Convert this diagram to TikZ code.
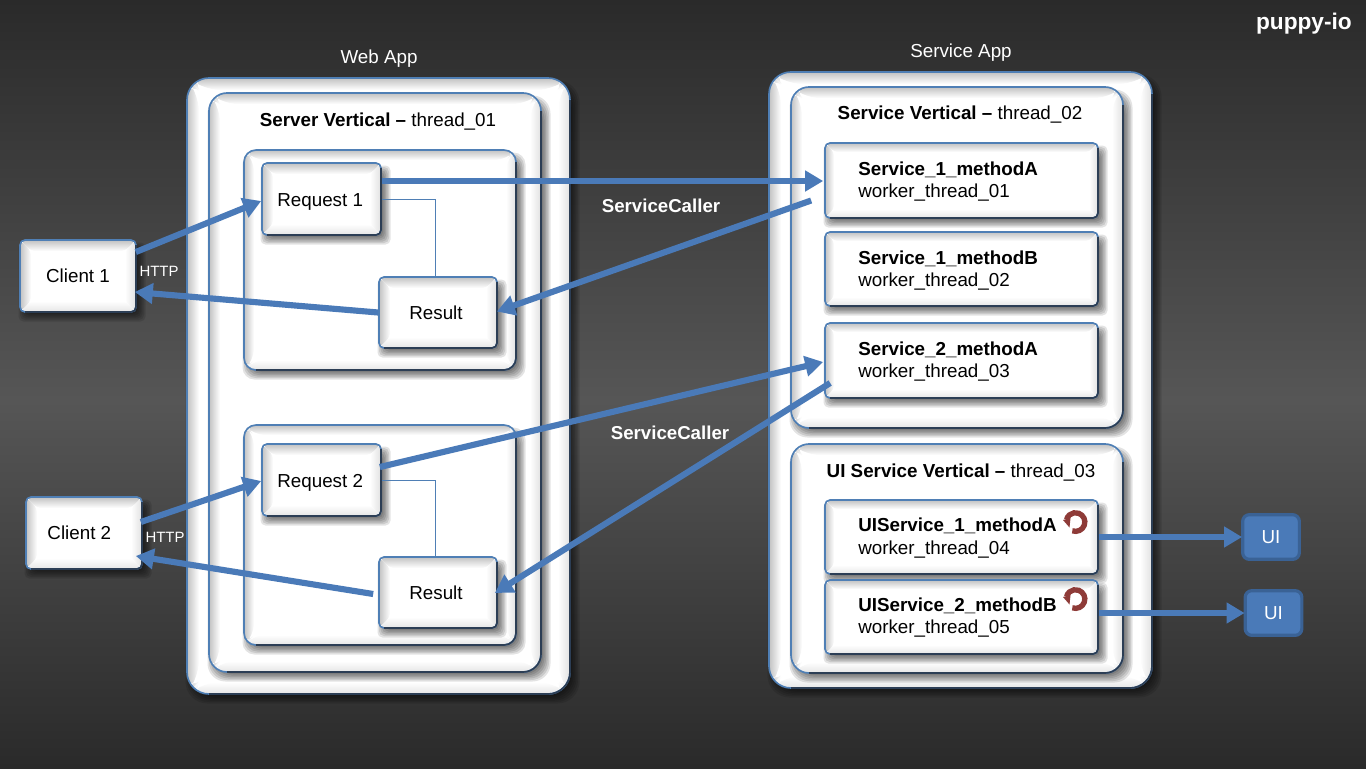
\documentclass[tikz,border=0pt]{standalone}
\usepackage{fontspec}
\setmainfont{Liberation Sans}
\usetikzlibrary{arrows.meta,calc}
\definecolor{bgdark}{HTML}{2A2A2A}
\definecolor{bgmid}{HTML}{565656}
\definecolor{linkblue}{HTML}{4A7AB8}
\definecolor{edgeblue}{HTML}{4F7FB5}
\definecolor{edgedark}{HTML}{2C3E55}
\definecolor{uiedge}{HTML}{3A6295}
\definecolor{spin}{HTML}{8E3B38}
\tikzset{
  x=0.75pt,y=-0.75pt,
  bevel/.store in=\bevw, bevel=10,
  bevelbox/.style={draw=edgeblue,line width=1.25pt,fill=white,inner sep=0pt,
    font=\fontsize{14.1}{16}\selectfont,
    path picture={
      \coordinate (nw) at (path picture bounding box.north west);
      \coordinate (ne) at (path picture bounding box.north east);
      \coordinate (sw) at (path picture bounding box.south west);
      \coordinate (se) at (path picture bounding box.south east);
      \shade[top color=black!24,bottom color=white]
        (nw)--(ne)--($(ne)+(-\bevw,\bevw)$)--($(nw)+(\bevw,\bevw)$)--cycle;
      \shade[left color=black!24,right color=white]
        (nw)--($(nw)+(\bevw,\bevw)$)--($(sw)+(\bevw,-\bevw)$)--(sw)--cycle;
      \shade[right color=black!12,left color=white]
        (ne)--($(ne)+(-\bevw,\bevw)$)--($(se)+(-\bevw,-\bevw)$)--(se)--cycle;
      \shade[bottom color=black!10,top color=white]
        (sw)--($(sw)+(\bevw,-\bevw)$)--($(se)+(-\bevw,-\bevw)$)--(se)--cycle;
    }},
  lbl/.style={inner sep=0pt,font=\fontsize{14.1}{16}\selectfont},
  lblwhite/.style={lbl,text=white},
  linkarrow/.style={draw=linkblue,line width=4.6pt,-{Triangle[length=13.5pt,width=15pt]}},
  uiarrow/.style={draw=linkblue,line width=4.6pt,-{Triangle[length=13.5pt,width=15pt]}},
  thinlink/.style={draw=edgeblue,line width=0.6pt},
  uibox/.style={draw=uiedge,line width=2.4pt,fill=linkblue,rounded corners=5pt,
    text=white,inner sep=0pt,font=\fontsize{14.1}{16}\selectfont},
  spinner/.style={draw=spin,line width=4pt},
}
% name, x1, y1, x2, y2, radius(px), bevel(px), text
\newcommand{\bevbox}[8]{%
  \foreach \g in {0,1.5,...,7.5}{
    \fill[black,opacity=0.11,rounded corners=#6*0.75pt]
      (#2+6-\g,#3+10-\g) rectangle (#4+2+\g,#5+2+\g);
  }
  \node[bevelbox,bevel=#7,rounded corners=#6*0.75pt,
        minimum width=(#4-#2)*0.75pt,minimum height=(#5-#3)*0.75pt]
    (#1) at ({(#2+#4)/2},{(#3+#5)/2}) {#8};
  \draw[edgedark,line width=1.25pt,rounded corners=#6*0.75pt]
    (#4,#3+#6) -- (#4,#5) -- (#2+#6,#5);
}
\newcommand{\spinicon}[3]{%
  \coordinate (#1) at (#2,#3);
  \draw[spinner] ($(#1)+(-3.2,8.8)$) arc[start angle=-110,end angle=165,radius=7pt];
  \fill[spin] ($(#1)+(-12.5,-2)$) -- ($(#1)+(-5,-4)$) -- ($(#1)+(-6,5.5)$) -- cycle;
}
\begin{document}
\begin{tikzpicture}
\useasboundingbox (0,0) rectangle (1366,768);
\shade[top color=bgdark,bottom color=bgmid] (0,0) rectangle (1366,400);
\shade[top color=bgmid,bottom color=bgdark] (0,400) rectangle (1366,768);

\node[lblwhite,font=\fontsize{17}{20}\selectfont\bfseries,anchor=east] (brand) at (1352,24) {puppy-io};
\node[lblwhite] (webtitle) at (379,59) {Web App};
\node[lblwhite] (svctitle) at (961,53) {Service App};

% Web app
\bevbox{webapp}{187}{78}{570}{694}{22}{12}{}
\bevbox{server}{209}{93}{541}{672}{18}{11}{}
\node[lbl] (servertitle) at (378,122) {\textbf{Server Vertical –} thread\_01};
\bevbox{groupa}{244}{150}{516}{370}{12}{10}{}
\bevbox{groupb}{244}{425}{516}{645}{12}{10}{}
\bevbox{reqa}{262}{163}{381}{235}{5}{11}{\raisebox{-2pt}[10pt][3pt]{Request 1}\kern2pt}
\bevbox{resa}{379}{277}{497}{348}{5}{11}{Result\kern3pt}
\bevbox{reqb}{262}{444}{381}{516}{5}{11}{\raisebox{-2pt}[10pt][3pt]{Request 2}\kern2pt}
\bevbox{resb}{379}{557}{497}{628}{5}{11}{Result\kern3pt}
\draw[thinlink] (reqa.east) -| ($(resa.north)+(-3,0)$);
\draw[thinlink] (reqb.east) -| ($(resb.north)+(-3,0)$);

% Clients
\bevbox{clienta}{20}{240}{136}{312}{5}{11}{Client 1}
\bevbox{clientb}{26}{497}{142}{569}{5}{11}{Client 2\kern7pt}
\node[lblwhite,font=\fontsize{11.2}{13}\selectfont] (httpa) at (159,271) {HTTP};
\node[lblwhite,font=\fontsize{11.2}{13}\selectfont] (httpb) at (165,537) {HTTP};

% Service app
\bevbox{svcapp}{769}{72}{1152}{688}{22}{12}{}
\bevbox{svcv}{791}{87}{1123}{428}{18}{11}{}
\bevbox{uiv}{791}{444}{1123}{673}{18}{11}{}
\node[lbl] (svctext) at (960,115) {\textbf{Service Vertical –} thread\_02};
\node[lbl] (uitext) at (961,473) {\textbf{UI Service Vertical –} thread\_03};
\bevbox{sa}{825}{143}{1098}{218}{5}{9}{}
\bevbox{sb}{825}{232}{1098}{306}{5}{9}{}
\bevbox{sc}{825}{323}{1098}{398}{5}{9}{}
\bevbox{ua}{825}{500}{1098}{574}{5}{9}{}
\bevbox{ub}{825}{580}{1098}{654}{5}{9}{}
\node[lbl,anchor=west] (sat) at (858,170) {\textbf{Service\_1\_methodA}};
\node[lbl,anchor=west] (sab) at (858,193) {worker\_thread\_01};
\node[lbl,anchor=west] (sbt) at (858,259) {\textbf{Service\_1\_methodB}};
\node[lbl,anchor=west] (sbb) at (858,282) {worker\_thread\_02};
\node[lbl,anchor=west] (sct) at (858,350) {\textbf{Service\_2\_methodA}};
\node[lbl,anchor=west] (scb) at (858,373) {worker\_thread\_03};
\node[lbl,anchor=west] (uat) at (858,526) {\textbf{UIService\_1\_methodA}};
\node[lbl,anchor=west] (uab) at (858,550) {worker\_thread\_04};
\node[lbl,anchor=west] (ubt) at (858,606) {\textbf{UIService\_2\_methodB}};
\node[lbl,anchor=west] (ubb) at (858,629) {worker\_thread\_05};
\spinicon{spina}{1075.5}{522}
\spinicon{spinb}{1075.5}{599}

% UI boxes
\node[uibox,minimum width=42.5pt,minimum height=33.5pt] (uia) at (1271,537) {UI};
\node[uibox,minimum width=42.5pt,minimum height=33.5pt] (uib) at (1273.5,613) {UI};

% Connectors
\draw[linkarrow] ($(reqa.east)+(0,-18)$) -- ($(sa.west)+(-1,0.5)$);
\draw[linkarrow] ($(sa.west)+(-13,20)$) -- ($(resa.east)+(-1,-1)$);
\draw[linkarrow] (resa.west) -- ($(clienta.east)+(-2,16)$);
\draw[linkarrow] ($(clienta.east)+(-1,-24)$) -- ($(reqa.west)+(0,2)$);
\draw[linkarrow] ($(clientb.east)+(-2,-11)$) -- ($(reqb.west)+(0,1)$);
\draw[linkarrow] ($(resb.west)+(-5,1.5)$) -- ($(clientb.east)+(-7,23)$);
\draw[linkarrow] ($(reqb.east)+(-2,-13)$) -- ($(sc.west)+(-1,1.5)$);
\draw[linkarrow] ($(sc.west)+(6,22.5)$) -- ($(resb.east)+(-3,0.5)$);
\draw[uiarrow] (ua.east) -- ($(uia.west)+(1,0)$);
\draw[uiarrow] ($(ub.east)+(0,-4)$) -- ($(uib.west)+(1,0)$);

\node[lblwhite,font=\fontsize{14}{16}\selectfont\bfseries] (calla) at (661,206) {ServiceCaller};
\node[lblwhite,font=\fontsize{14}{16}\selectfont\bfseries] (callb) at (670,433) {ServiceCaller};
\end{tikzpicture}
\end{document}
